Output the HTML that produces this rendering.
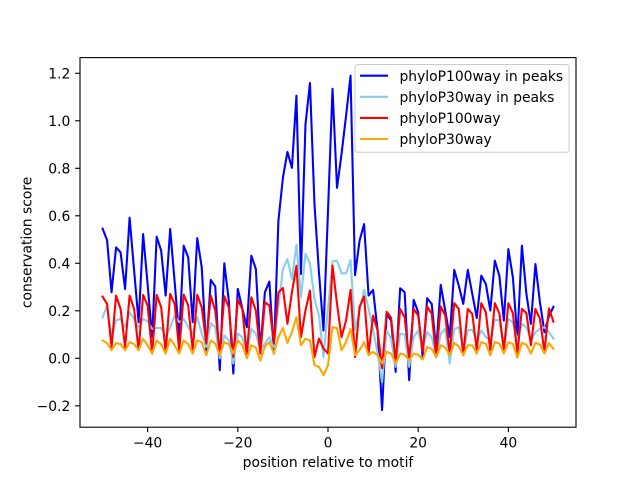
<!DOCTYPE html>
<html>
<head>
<meta charset="utf-8">
<style>
html,body{margin:0;padding:0;background:#fff;}
svg{display:block;}
text{font-family:"DejaVu Sans","Liberation Sans",sans-serif;font-size:13.89px;fill:#000;}
</style>
</head>
<body>
<svg width="640" height="480" viewBox="0 0 640 480" xmlns="http://www.w3.org/2000/svg">
<rect x="0" y="0" width="640" height="480" fill="#fff"/>
<g transform="translate(328,358.3) scale(4.5091,-237.5)" fill="none" stroke-linejoin="round" stroke-linecap="square">
<polyline vector-effect="non-scaling-stroke" stroke="#0000ff" stroke-width="2.08" points="-50,.546 -49,.498 -48,.278 -47,.467 -46,.446 -45,.292 -44,.592 -43,.37 -42,.152 -41,.523 -40,.31 -39,.089 -38,.512 -37,.453 -36,.264 -35,.544 -34,.32 -33,.089 -32,.474 -31,.425 -30,.152 -29,.506 -28,.383 -27,.034 -26,.33 -25,.302 -24,-.05 -23,.40 -22,.243 -21,-.064 -20,.292 -19,.21 -18,.131 -17,.432 -16,.376 -15,.034 -14,.278 -13,.323 -12,.02 -11,.579 -10,.76 -9,.869 -8,.802 -7,1.106 -6,.355 -5,.984 -4,1.159 -3,.649 -2,.36 -1,.117 0,.62 1,1.135 2,.718 3,.86 4,1.02 5,1.19 6,.35 7,.495 8,.565 9,.264 10,.288 11,.117 12,-.218 13,.187 14,.159 15,-.057 16,.295 17,.278 18,-.092 19,.246 20,.194 21,.005 22,.253 23,.229 24,.034 25,.309 26,.201 27,.089 28,.372 29,.306 30,.229 31,.372 32,.271 33,.17 34,.348 35,.313 36,.201 37,.411 38,.348 39,.159 40,.46 41,.341 42,.083 43,.474 44,.271 45,.145 46,.397 47,.236 48,.11 49,.177 50,.217"/>
<polyline vector-effect="non-scaling-stroke" stroke="#87ceeb" stroke-width="2.08" points="-50,.171 -49,.222 -48,.089 -47,.159 -46,.166 -45,.131 -44,.194 -43,.166 -42,.131 -41,.166 -40,.156 -39,.124 -38,.128 -37,.128 -36,.089 -35,.131 -34,.18 -33,.152 -32,.166 -31,.131 -30,.104 -29,.173 -28,.104 -27,.047 -26,.148 -25,.131 -24,0 -23,.096 -22,.075 -21,-.022 -20,.104 -19,.089 -18,.02 -17,.124 -16,.104 -15,.034 -14,.062 -13,.089 -12,.047 -11,.22 -10,.376 -9,.418 -8,.334 -7,.478 -6,.257 -5,.439 -4,.40 -3,.25 -2,.18 -1,.005 0,.21 1,.408 2,.411 3,.358 4,.358 5,.414 6,.12 7,.2 8,.288 9,.21 10,.12 11,.02 12,-.1 13,.117 14,.083 15,-.036 16,.104 17,.10 18,-.036 19,.089 20,.117 21,.034 22,.11 23,.089 24,.005 25,.104 26,.124 27,-.022 28,.124 29,.131 30,.034 31,.117 32,.12 33,.075 34,.117 35,.09 36,.075 37,.162 38,.16 39,.04 40,.166 41,.152 42,.075 43,.145 44,.131 45,.075 46,.11 47,.124 48,.131 49,.11 50,.083"/>
<polyline vector-effect="non-scaling-stroke" stroke="#ff0000" stroke-width="2.08" points="-50,.26 -49,.229 -48,.047 -47,.264 -46,.208 -45,.047 -44,.264 -43,.208 -42,.034 -41,.267 -40,.222 -39,.02 -38,.267 -37,.215 -36,.027 -35,.271 -34,.229 -33,.034 -32,.268 -31,.222 -30,.034 -29,.267 -28,.215 -27,.062 -26,.264 -25,.201 -24,.02 -23,.261 -22,.215 -21,.005 -20,.247 -19,.208 -18,.013 -17,.257 -16,.201 -15,.02 -14,.236 -13,.222 -12,.062 -11,.278 -10,.296 -9,.145 -8,.278 -7,.39 -6,.089 -5,.201 -4,.285 -3,.005 -2,.083 -1,.041 0,.02 1,.39 2,.229 3,.089 4,.159 5,.288 6,.005 7,.217 8,.26 9,.02 10,.18 11,.117 12,-.042 13,.196 14,.17 15,-.015 16,.208 17,.173 18,-.001 19,.208 20,.18 21,.027 22,.218 23,.187 24,.005 25,.218 26,.18 27,.02 28,.232 29,.208 30,.013 31,.208 32,.187 33,.034 34,.232 35,.194 36,.034 37,.232 38,.19 39,.034 40,.232 41,.19 42,.02 43,.208 44,.19 45,.055 46,.208 47,.166 48,.027 49,.21 50,.154"/>
<polyline vector-effect="non-scaling-stroke" stroke="#ffa500" stroke-width="2.08" points="-50,.075 -49,.064 -48,.034 -47,.064 -46,.06 -45,.034 -44,.068 -43,.06 -42,.034 -41,.082 -40,.055 -39,.02 -38,.075 -37,.059 -36,.02 -35,.082 -34,.055 -33,.02 -32,.075 -31,.06 -30,.02 -29,.075 -28,.068 -27,.013 -26,.075 -25,.062 -24,.013 -23,.068 -22,.06 -21,.02 -20,.075 -19,.055 -18,0 -17,.055 -16,.045 -15,-.01 -14,.05 -13,.068 -12,.02 -11,.089 -10,.127 -9,.065 -8,.11 -7,.173 -6,.055 -5,.083 -4,.075 -3,-.029 -2,-.036 -1,-.071 0,-.029 1,.131 2,.127 3,.034 4,.068 5,.124 6,.013 7,.034 8,.068 9,.013 10,.027 11,.013 12,-.022 13,.027 14,.02 15,-.022 16,.02 17,.015 18,-.008 19,.02 20,.015 21,-.005 22,.047 23,.04 24,.005 25,.055 26,.045 27,.013 28,.064 29,.05 30,.013 31,.055 32,.055 33,.02 34,.068 35,.061 36,.013 37,.068 38,.062 39,.02 40,.068 41,.06 42,.003 43,.065 44,.058 45,.02 46,.065 47,.058 48,.02 49,.064 50,.04"/>
</g>
<!-- axes frame -->
<rect x="80" y="57.6" width="496" height="369.6" fill="none" stroke="#000" stroke-width="1.1"/>
<g stroke="#000" stroke-width="1.1">
<line x1="147.6" y1="427.2" x2="147.6" y2="432.1"/>
<line x1="237.8" y1="427.2" x2="237.8" y2="432.1"/>
<line x1="328" y1="427.2" x2="328" y2="432.1"/>
<line x1="418.2" y1="427.2" x2="418.2" y2="432.1"/>
<line x1="508.4" y1="427.2" x2="508.4" y2="432.1"/>
<line x1="75.1" y1="405.8" x2="80" y2="405.8"/>
<line x1="75.1" y1="358.3" x2="80" y2="358.3"/>
<line x1="75.1" y1="310.8" x2="80" y2="310.8"/>
<line x1="75.1" y1="263.3" x2="80" y2="263.3"/>
<line x1="75.1" y1="215.8" x2="80" y2="215.8"/>
<line x1="75.1" y1="168.3" x2="80" y2="168.3"/>
<line x1="75.1" y1="120.8" x2="80" y2="120.8"/>
<line x1="75.1" y1="73.3" x2="80" y2="73.3"/>
</g>
<g text-anchor="middle">
<text x="147.6" y="447.5">−40</text>
<text x="237.8" y="447.5">−20</text>
<text x="328" y="447.5">0</text>
<text x="418.2" y="447.5">20</text>
<text x="508.4" y="447.5">40</text>
</g>
<g text-anchor="end">
<text x="70.3" y="410.9">−0.2</text>
<text x="70.3" y="363.4">0.0</text>
<text x="70.3" y="315.9">0.2</text>
<text x="70.3" y="268.4">0.4</text>
<text x="70.3" y="220.9">0.6</text>
<text x="70.3" y="173.4">0.8</text>
<text x="70.3" y="125.9">1.0</text>
<text x="70.3" y="78.4">1.2</text>
</g>
<text x="328" y="467" text-anchor="middle">position relative to motif</text>
<text transform="translate(31.5,242.4) rotate(-90)" text-anchor="middle">conservation score</text>
<!-- legend -->
<rect x="355" y="64.5" width="214.1" height="87.8" rx="2.8" ry="2.8" fill="#ffffff" fill-opacity="0.8" stroke="#cccccc" stroke-width="1"/>
<g stroke-width="2.08" stroke-linecap="square">
<line x1="361" y1="75.7" x2="387" y2="75.7" stroke="#0000ff"/>
<line x1="361" y1="96.8" x2="387" y2="96.8" stroke="#87ceeb"/>
<line x1="361" y1="117.9" x2="387" y2="117.9" stroke="#ff0000"/>
<line x1="361" y1="139" x2="387" y2="139" stroke="#ffa500"/>
</g>
<text x="399.5" y="80.8">phyloP100way in peaks</text>
<text x="399.5" y="101.9">phyloP30way in peaks</text>
<text x="399.5" y="123">phyloP100way</text>
<text x="399.5" y="144.1">phyloP30way</text>
</svg>
</body>
</html>
